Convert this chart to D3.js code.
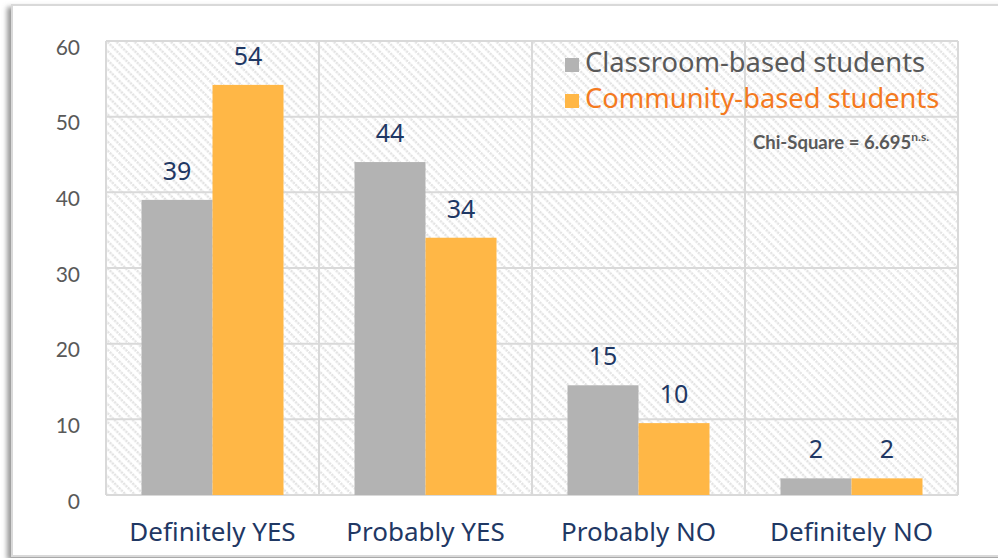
<!DOCTYPE html>
<html>
<head>
<meta charset="utf-8">
<script src="https://cdn.jsdelivr.net/npm/d3@7"></script>
<style>
  html, body { margin: 0; padding: 0; background: #ffffff; }
  svg { display: block; }
</style>
</head>
<body>
<div id="chart"></div>
<script>
// chart data
var categories = ['Definitely YES', 'Probably YES', 'Probably NO', 'Definitely NO'];
var series_names = ['Classroom-based students', 'Community-based students'];
var classroom_values = [39.0, 44.0, 14.5, 2.2];
var community_values = [54.2, 34.0, 9.5, 2.2];
var y_ticks = [0, 10, 20, 30, 40, 50, 60];
var chi_label = 'Chi-Square = 6.695';
var chi_sup = 'n.s.';

var width = 998, height = 558;
var plot = { left: 106, right: 958, top: 41, bottom: 495 };

var bar_colors    = ['#b3b3b3', '#ffb746'];
var legend_colors = ['#595959', '#f47a1f'];
var navy          = '#1f3864';
var grid_color    = '#d9d9d9';

var svg = d3.select('#chart')
    .append('svg')
    .attr('width', width)
    .attr('height', height);

var defs = svg.append('defs');

// diagonal dashed hatch used as the plot background
var hatch = defs.append('pattern')
    .attr('id', 'hatch')
    .attr('patternUnits', 'userSpaceOnUse')
    .attr('width', 6.4)
    .attr('height', 6.4)
    .attr('patternTransform', 'rotate(-45)');
hatch.append('rect')
    .attr('width', 6.4).attr('height', 6.4)
    .attr('fill', '#ffffff');
hatch.append('line')
    .attr('x1', 1.6).attr('y1', 0)
    .attr('x2', 1.6).attr('y2', 6.4)
    .attr('stroke', '#e3e3e3')
    .attr('stroke-width', 2.4)
    .attr('stroke-dasharray', '2.2,1');

var shadow = defs.append('filter')
    .attr('id', 'shadow')
    .attr('x', '-5%').attr('y', '-5%')
    .attr('width', '110%').attr('height', '110%');
shadow.append('feDropShadow')
    .attr('dx', -4).attr('dy', 3)
    .attr('stdDeviation', 2.5)
    .attr('flood-color', '#7f7f7f')
    .attr('flood-opacity', 0.8);

// outer frame
svg.append('rect')
    .attr('x', 12).attr('y', 5)
    .attr('width', 1000).attr('height', 551)
    .attr('fill', '#ffffff')
    .attr('stroke', grid_color)
    .attr('stroke-width', 2)
    .attr('filter', 'url(#shadow)');

// scales
var x0 = d3.scaleBand()
    .domain(categories)
    .range([plot.left, plot.right])
    .padding(0);

var bw = x0.bandwidth();
var x1 = d3.scaleBand()
    .domain(series_names)
    .range([bw / 6, bw - bw / 6])
    .padding(0);

var y = d3.scaleLinear()
    .domain([0, 60])
    .range([plot.bottom, plot.top]);

// hatched background
svg.append('rect')
    .attr('x', plot.left).attr('y', plot.top)
    .attr('width', plot.right - plot.left)
    .attr('height', plot.bottom - plot.top)
    .attr('fill', 'url(#hatch)');

// horizontal grid
svg.append('g')
    .selectAll('line')
    .data(y_ticks)
    .enter()
    .append('line')
    .attr('x1', plot.left).attr('x2', plot.right)
    .attr('y1', function(d) { return y(d); })
    .attr('y2', function(d) { return y(d); })
    .attr('stroke', grid_color)
    .attr('stroke-width', 2);

// vertical grid at category boundaries
var bounds = categories.map(function(c) { return x0(c); }).concat([plot.right]);
svg.append('g')
    .selectAll('line')
    .data(bounds)
    .enter()
    .append('line')
    .attr('x1', function(d) { return d; })
    .attr('x2', function(d) { return d; })
    .attr('y1', plot.top).attr('y2', plot.bottom)
    .attr('stroke', grid_color)
    .attr('stroke-width', 2);

// y axis labels
var y_axis = d3.axisLeft(y).tickValues(y_ticks).tickSize(0).tickPadding(26);
var y_g = svg.append('g')
    .attr('transform', 'translate(' + plot.left + ',0)')
    .call(y_axis);
y_g.select('.domain').remove();
y_g.selectAll('text')
    .attr('dy', '0.62em')
    .attr('font-family', 'Lato, "Noto Sans", sans-serif')
    .attr('font-size', '21px')
    .attr('fill', '#595959');

// bars
var all_values = [classroom_values, community_values];
var groups = svg.selectAll('.series')
    .data(all_values)
    .enter()
    .append('g')
    .attr('class', 'series')
    .style('fill', function(d, i) { return bar_colors[i]; });

groups.each(function(vals, si) {
    var g = d3.select(this);
    g.selectAll('rect')
        .data(vals)
        .enter()
        .append('rect')
        .attr('x', function(d, i) { return x0(categories[i]) + x1(series_names[si]); })
        .attr('y', function(d) { return y(d); })
        .attr('width', x1.bandwidth())
        .attr('height', function(d) { return y(0) - y(d); });

    // value labels
    g.selectAll('text')
        .data(vals)
        .enter()
        .append('text')
        .attr('x', function(d, i) { return x0(categories[i]) + x1(series_names[si]) + x1.bandwidth() / 2; })
        .attr('y', function(d) { return y(d) - 20; })
        .attr('text-anchor', 'middle')
        .attr('font-family', '"Noto Sans", sans-serif')
        .attr('font-size', '25px')
        .style('fill', navy)
        .text(function(d) { return Math.round(d); });
});

// category labels
svg.append('g')
    .selectAll('text')
    .data(categories)
    .enter()
    .append('text')
    .attr('x', function(d) { return x0(d) + bw / 2; })
    .attr('y', 541)
    .attr('text-anchor', 'middle')
    .attr('font-family', '"Noto Sans", sans-serif')
    .attr('font-size', '26px')
    .attr('fill', navy)
    .text(function(d) { return d; });

// legend
var legend = svg.append('g')
    .attr('transform', 'translate(565,58)');
var items = legend.selectAll('g')
    .data(series_names)
    .enter()
    .append('g')
    .attr('transform', function(d, i) { return 'translate(0,' + (i * 36) + ')'; });
items.append('rect')
    .attr('width', 14).attr('height', 14)
    .attr('fill', function(d, i) { return bar_colors[i]; });
items.append('text')
    .attr('x', 20)
    .attr('y', 14)
    .attr('font-family', '"Noto Sans", sans-serif')
    .attr('font-size', '27.3px')
    .attr('fill', function(d, i) { return legend_colors[i]; })
    .text(function(d) { return d; });

// chi-square annotation
var chi = svg.append('text')
    .attr('x', 753)
    .attr('y', 149)
    .attr('font-family', 'Lato, "Noto Sans", sans-serif')
    .attr('font-weight', 'bold')
    .attr('font-size', '18.5px')
    .attr('fill', '#595959');
chi.append('tspan').text(chi_label);
chi.append('tspan')
    .attr('dy', -8)
    .attr('font-size', '12px')
    .text(chi_sup);
</script>
</body>
</html>
